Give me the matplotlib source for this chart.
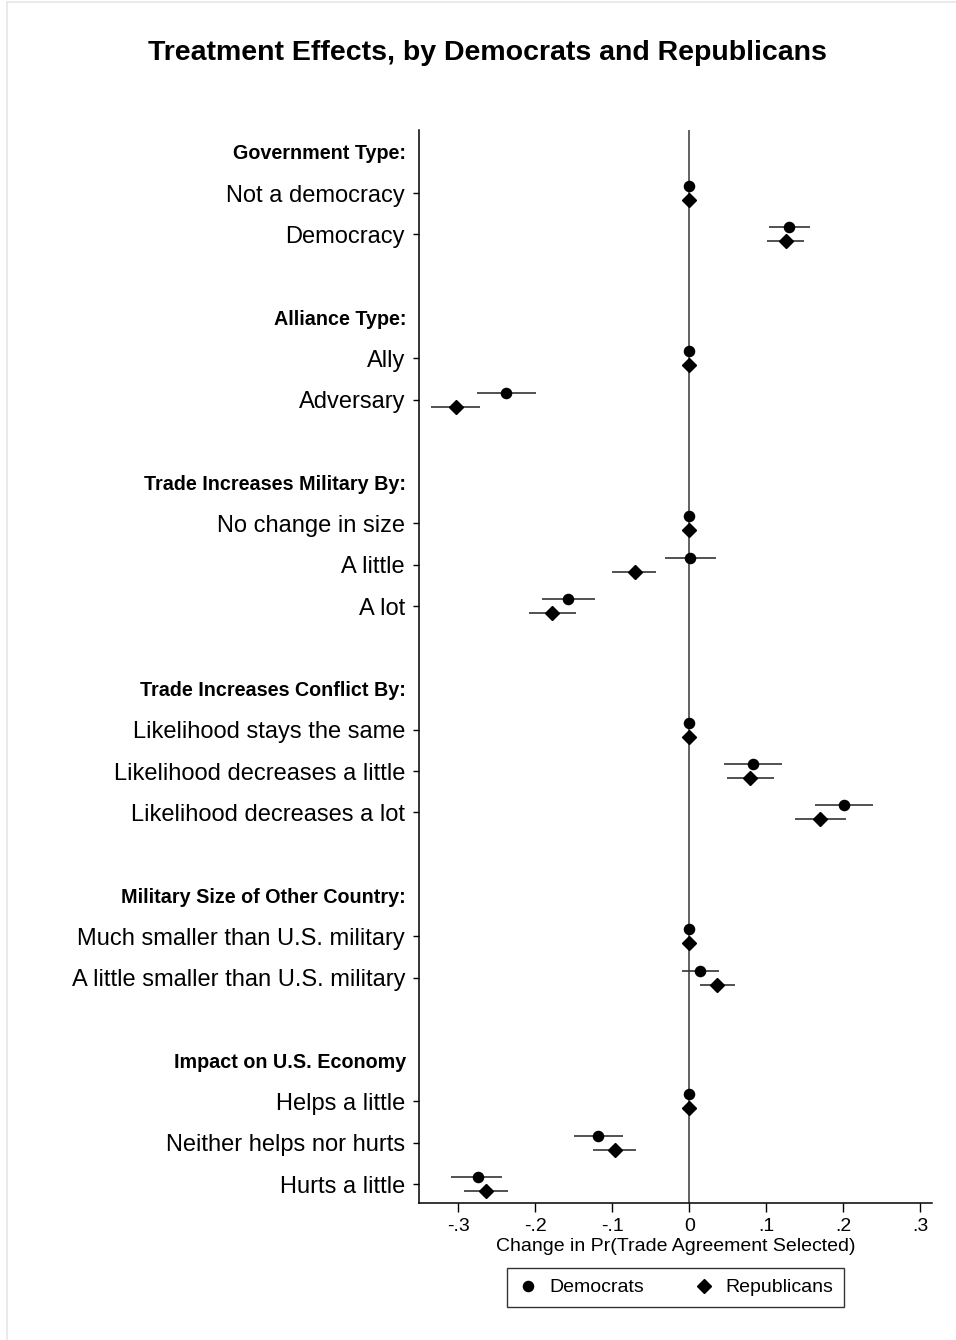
import matplotlib.pyplot as plt
from matplotlib.lines import Line2D
from matplotlib.transforms import blended_transform_factory

plt.rcParams["font.family"] = ["Liberation Sans", "DejaVu Sans"]

# --- Datos ---
headers = [
    "Government Type:",
    "Alliance Type:",
    "Trade Increases Military By:",
    "Trade Increases Conflict By:",
    "Military Size of Other Country:",
    "Impact on U.S. Economy",
]
levels = [
    ["Not a democracy", "Democracy"],
    ["Ally", "Adversary"],
    ["No change in size", "A little", "A lot"],
    ["Likelihood stays the same", "Likelihood decreases a little", "Likelihood decreases a lot"],
    ["Much smaller than U.S. military", "A little smaller than U.S. military"],
    ["Helps a little", "Neither helps nor hurts", "Hurts a little"],
]

dem_est = [0, 0.129, 0, -0.238, 0, 0.001, -0.157, 0, 0.083, 0.201, 0, 0.014, 0, -0.118, -0.275]
dem_lo = [0, 0.103, 0, -0.276, 0, -0.031, -0.191, 0, 0.045, 0.163, 0, -0.010, 0, -0.150, -0.309]
dem_hi = [0, 0.157, 0, -0.199, 0, 0.034, -0.123, 0, 0.120, 0.239, 0, 0.038, 0, -0.086, -0.243]

rep_est = [0, 0.125, 0, -0.303, 0, -0.071, -0.178, 0, 0.079, 0.170, 0, 0.036, 0, -0.096, -0.264]
rep_lo = [0, 0.101, 0, -0.335, 0, -0.100, -0.208, 0, 0.049, 0.137, 0, 0.014, 0, -0.125, -0.293]
rep_hi = [0, 0.149, 0, -0.272, 0, -0.043, -0.147, 0, 0.110, 0.203, 0, 0.059, 0, -0.069, -0.235]

xticks = [-0.3, -0.2, -0.1, 0, 0.1, 0.2, 0.3]
xticklabels = ["-.3", "-.2", "-.1", "0", ".1", ".2", ".3"]

# --- Posiciones de filas: encabezado, niveles, fila vacia ---
header_rows = []
level_rows = []
level_names = []
row = 0
for head, levs in zip(headers, levels):
    header_rows.append(row)
    row += 1
    for lev in levs:
        level_rows.append(row)
        level_names.append(lev)
        row += 1
    row += 1  # espacio entre grupos

OFF = 0.17  # desplazamiento vertical Dem/Rep

fig = plt.figure(figsize=(9.56, 13.4), dpi=100)
ax = fig.add_axes([419 / 956, 1 - 1203 / 1340, (932 - 419) / 956, (1203 - 130) / 1340])

ax.axvline(0, color="#555555", lw=1.3, zorder=1)

dem_y = [r - OFF for r in level_rows]
rep_y = [r + OFF for r in level_rows]
ax.hlines(dem_y, dem_lo, dem_hi, color="#333333", lw=1.2, zorder=2)
ax.hlines(rep_y, rep_lo, rep_hi, color="#333333", lw=1.2, zorder=2)
ax.plot(dem_est, dem_y, "o", color="black", ms=7.3, ls="none", zorder=3)
ax.plot(rep_est, rep_y, "D", color="black", ms=7.4, ls="none", zorder=3)

ax.set_xlim(-0.351, 0.315)
ax.set_ylim(25.46, -0.53)

ax.set_yticks(level_rows)
ax.set_yticklabels(level_names, fontsize=17)
ax.tick_params(axis="y", length=4, width=1, pad=6)
ax.set_xticks(xticks)
ax.set_xticklabels(xticklabels, fontsize=14)
ax.tick_params(axis="x", length=6.5, width=1, pad=4.5)

trans = blended_transform_factory(ax.transAxes, ax.transData)
for r, head in zip(header_rows, headers):
    ax.text(-13 / 513, r + 0.05, head, transform=trans, ha="right", va="center",
            fontsize=14.2, fontweight="bold")

ax.set_xlabel("Change in Pr(Trade Agreement Selected)", fontsize=14, labelpad=2)
ax.spines[["top", "right"]].set_visible(False)
ax.spines["left"].set_linewidth(1.1)
ax.spines["bottom"].set_linewidth(1.1)

fig.text(487 / 956, 1 - 53 / 1340, "Treatment Effects, by Democrats and Republicans",
         ha="center", va="center", fontsize=20.5, fontweight="bold")

handles = [
    Line2D([], [], marker="o", color="black", ls="none", ms=7.3),
    Line2D([], [], marker="D", color="black", ls="none", ms=7.4),
]
leg = fig.legend(handles, ["Democrats", "Republicans"], loc="upper center",
                 bbox_to_anchor=(675.5 / 956, 1 - 1268 / 1340), ncol=2, fontsize=14,
                 frameon=True, fancybox=False, edgecolor="black", handlelength=1.0,
                 handletextpad=0.6, columnspacing=2.6, borderpad=0.55, borderaxespad=0)
leg.get_frame().set_linewidth(1.0)

# borde tenue del area del grafico
fig.add_artist(Line2D([7 / 956, 1], [1 - 2 / 1340, 1 - 2 / 1340], color="#e6e6e6", lw=1.2,
                      transform=fig.transFigure))
fig.add_artist(Line2D([7 / 956, 7 / 956], [0, 1 - 2 / 1340], color="#e6e6e6", lw=1.2,
                      transform=fig.transFigure))

fig.savefig("out.png", dpi=100)
